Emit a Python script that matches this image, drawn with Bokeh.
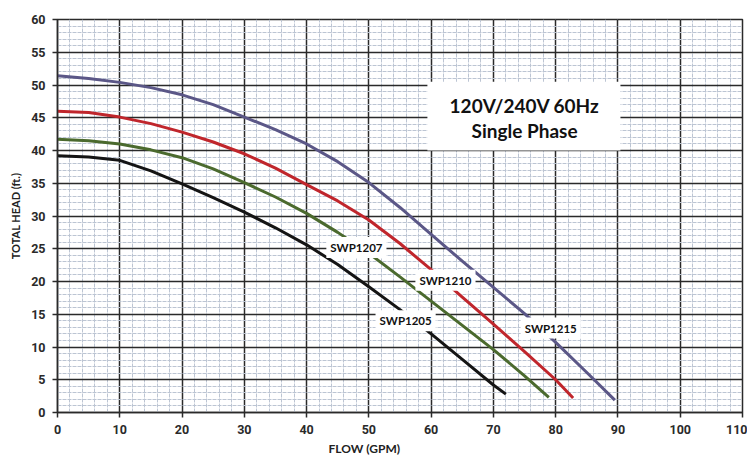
from bokeh.plotting import figure
from bokeh.models import Label, BoxAnnotation, Title, FixedTicker, Range1d
from bokeh.embed import file_html
from bokeh.resources import INLINE

# ---- data ----
flow_1205 = [0, 5, 10, 15, 20, 25, 30, 35, 40, 45, 50, 55, 60, 65, 70, 72]
head_1205 = [39.2, 39.0, 38.5, 36.9, 34.9, 32.8, 30.6, 28.2, 25.6, 22.6, 19.2, 15.7, 12.0, 8.1, 4.2, 2.8]

flow_1207 = [0, 5, 10, 15, 20, 25, 30, 35, 40, 45, 50, 55, 60, 65, 70, 75, 78.9]
head_1207 = [41.7, 41.5, 41.0, 40.1, 38.9, 37.2, 35.1, 32.9, 30.4, 27.5, 24.3, 20.7, 17.0, 13.3, 9.6, 5.6, 2.3]

flow_1210 = [0, 5, 10, 15, 20, 25, 30, 35, 40, 45, 50, 55, 60, 65, 70, 75, 80, 82.8]
head_1210 = [46.0, 45.8, 45.1, 44.1, 42.8, 41.3, 39.5, 37.3, 34.8, 32.3, 29.4, 25.8, 21.8, 17.6, 13.5, 9.3, 5.0, 2.2]

flow_1215 = [0, 5, 10, 15, 20, 25, 30, 35, 40, 45, 50, 55, 60, 65, 70, 75, 80, 85, 89.5]
head_1215 = [51.4, 51.0, 50.4, 49.6, 48.5, 47.0, 45.1, 43.2, 41.0, 38.3, 35.1, 31.3, 27.2, 23.1, 19.1, 15.1, 10.7, 6.1, 1.9]

series_names = ["SWP1205", "SWP1207", "SWP1210", "SWP1215"]
series_colors = ["#141414", "#4b6a2e", "#c0262c", "#5b5787"]
label_x = [55.9, 48.0, 62.3, 79.2]
label_y = [14.0, 25.2, 20.2, 12.9]

x_ticks = list(range(0, 111, 10))
y_ticks = list(range(0, 61, 5))

title_lines = ["120V/240V 60Hz", "Single Phase"]

# ---- figure ----
p = figure(width=747, height=458, output_backend="svg", toolbar_location=None,
           x_range=Range1d(0, 110), y_range=Range1d(0, 60),
           min_border_left=57, min_border_right=5, min_border_top=19, min_border_bottom=46,
           background_fill_color="white", border_fill_color="white")
p.outline_line_color = "#2a2a2a"
p.outline_line_width = 1.5

for ax in (p.xaxis[0], p.yaxis[0]):
    ax.axis_line_color = "#2a2a2a"
    ax.axis_line_width = 1.5
    ax.major_tick_line_color = "#2a2a2a"
    ax.major_tick_line_width = 1.5
    ax.major_tick_out = 5
    ax.major_tick_in = 0
    ax.minor_tick_line_color = None
    ax.major_label_text_font = "Roboto"
    ax.major_label_text_font_style = "bold"
    ax.major_label_text_font_size = "12.5px"
    ax.major_label_text_color = "#2a2a2a"

p.xaxis.ticker = FixedTicker(ticks=x_ticks, minor_ticks=list(range(0, 111, 2)))
p.yaxis.ticker = FixedTicker(ticks=y_ticks, minor_ticks=list(range(0, 61, 1)))
p.xaxis.major_label_standoff = 7
p.yaxis.major_label_standoff = 7

p.yaxis.axis_label = "TOTAL HEAD (ft.)"
p.yaxis.axis_label_text_font = "Lato"
p.yaxis.axis_label_text_font_style = "bold"
p.yaxis.axis_label_text_font_size = "11px"
p.yaxis.axis_label_text_color = "#222222"
p.yaxis.axis_label_standoff = 6

for g in (p.xgrid[0], p.ygrid[0]):
    g.grid_line_color = "#2a2a2a"
    g.grid_line_width = 1.5
    g.minor_grid_line_color = "#bcc5d3"
    g.minor_grid_line_width = 1
    g.minor_grid_line_dash = "4 1"

# curves
flows = [flow_1205, flow_1207, flow_1210, flow_1215]
heads = [head_1205, head_1207, head_1210, head_1215]
for fx, hy, col in zip(flows, heads, series_colors):
    p.line(fx, hy, line_color=col, line_width=3, line_join="round")

# curve labels with white backgrounds
for name, lx, ly in zip(series_names, label_x, label_y):
    p.add_layout(Label(x=lx, y=ly, text=name, text_align="center", text_baseline="middle",
                       text_font="Lato", text_font_style="bold", text_font_size="11.5px",
                       text_color="#111111", background_fill_color="white",
                       background_fill_alpha=1.0, padding=4))

# info box
p.add_layout(BoxAnnotation(left=59.4, right=90.4, bottom=40, top=50.5,
                           fill_color="white", fill_alpha=1.0, line_color=None))
p.add_layout(Label(x=75.0, y=46.9, text=title_lines[0], text_align="center", text_baseline="middle",
                   text_font="Lato", text_font_style="bold", text_font_size="19px", text_color="#111111"))
p.add_layout(Label(x=75.0, y=43.0, text=title_lines[1], text_align="center", text_baseline="middle",
                   text_font="Lato", text_font_style="bold", text_font_size="19px", text_color="#111111"))

# x axis title placed left of centre like the reference
p.add_layout(Title(text="FLOW (GPM)", align="left", offset=271, text_font="Lato",
                   text_font_style="bold", text_font_size="12px", text_color="#222222",
                   standoff=5), "below")

open("out.html", "w").write(file_html(p, INLINE))
